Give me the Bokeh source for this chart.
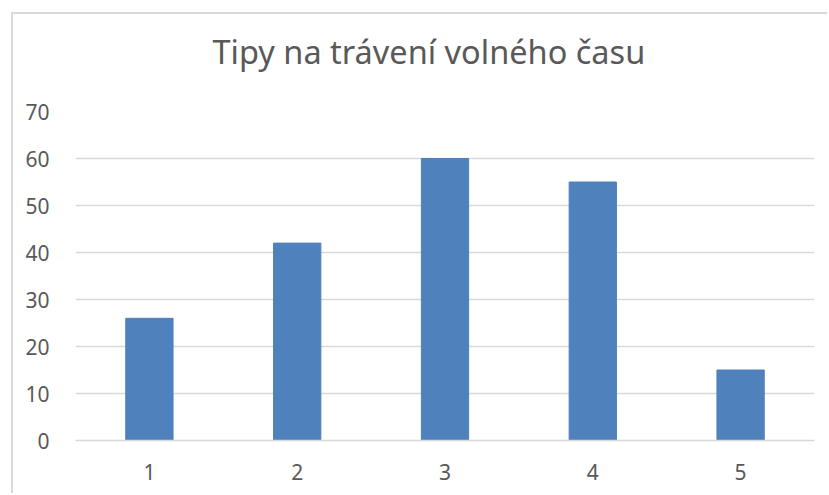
from bokeh.plotting import figure
from bokeh.embed import file_html
from bokeh.resources import INLINE
from bokeh.models import ColumnDataSource, Title

categories = ["1", "2", "3", "4", "5"]
values = [26, 42, 60, 55, 15]
y_ticks = [0, 10, 20, 30, 40, 50, 60, 70]
title_text = "Tipy na trávení volného času"

FONT = "Noto Sans"
TXT = "#595959"
GRID = "#d9d9d9"

source = ColumnDataSource(data=dict(cat=categories, val=values))

p = figure(
    width=816, height=481,
    x_range=categories, y_range=(0, 70),
    output_backend="svg", toolbar_location=None,
    min_border_left=62, min_border_right=15,
    min_border_top=97, min_border_bottom=55,
)
p.vbar(x="cat", top="val", width=0.32, source=source,
       fill_color="#4F81BD", line_color="#4F81BD", line_width=1)

p.title.text = title_text
p.title.align = "left"
p.title.text_font = FONT
p.title.text_font_style = "normal"
p.title.text_font_size = "32.5px"
p.title.text_color = TXT
p.title.standoff = 4
p.title.offset = 137

# blank spacer panel between the title and the plot area
spacer = Title(text=" ", text_font=FONT, text_font_size="24px",
               standoff=1, text_color="white")
p.add_layout(spacer, "above")

p.outline_line_color = None
p.background_fill_color = "white"
p.border_fill_color = "white"

p.xgrid.grid_line_color = None
p.ygrid.grid_line_color = GRID
p.ygrid.grid_line_width = 1.5
p.ygrid.ticker = y_ticks

p.yaxis.ticker = y_ticks
p.yaxis.axis_line_color = None
p.yaxis.major_tick_line_color = None
p.yaxis.minor_tick_line_color = None
p.yaxis.major_label_text_font = FONT
p.yaxis.major_label_text_font_size = "21px"
p.yaxis.major_label_text_color = TXT
p.yaxis.major_label_standoff = 20

p.xaxis.axis_line_color = GRID
p.xaxis.axis_line_width = 1.5
p.xaxis.major_tick_line_color = None
p.xaxis.minor_tick_line_color = None
p.xaxis.major_label_text_font = FONT
p.xaxis.major_label_text_font_size = "21px"
p.xaxis.major_label_text_color = TXT
p.xaxis.major_label_standoff = 17

p.margin = (12, 0, 0, 11)
p.styles = {"border-left": "2px solid #d9d9d9", "border-top": "2px solid #d9d9d9"}

open("out.html", "w").write(file_html(p, INLINE))
